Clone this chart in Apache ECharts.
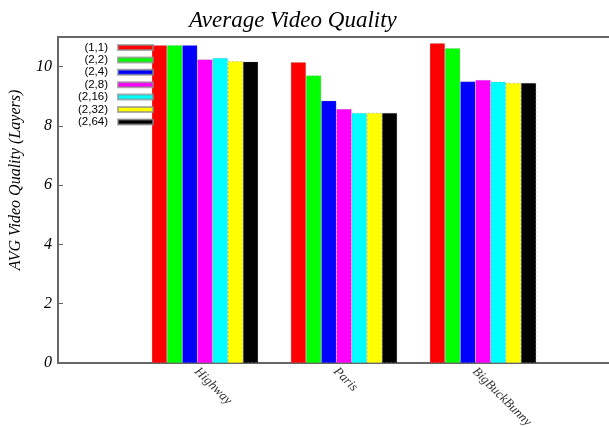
<!DOCTYPE html>
<html>
<head>
<meta charset="utf-8">
<script src="https://cdn.jsdelivr.net/npm/echarts@6/dist/echarts.min.js"></script>
<style>
  html, body { margin: 0; padding: 0; background: #fff; }
  #chart { width: 609px; height: 427px; }
</style>
</head>
<body>
<div id="chart"></div>
<script>
// videos on the x axis
var videos = ['Highway', 'Paris', 'BigBuckBunny'];

// one series per configuration
var configs = ['(1,1)', '(2,2)', '(2,4)', '(2,8)', '(2,16)', '(2,32)', '(2,64)'];
var colors = ['#ff0000', '#00ff00', '#0000ff', '#ff00ff', '#00ffff', '#ffff00', '#000000'];

var q1_1 = [10.72, 10.15, 10.79];
var q2_2 = [10.72, 9.70, 10.62];
var q2_4 = [10.72, 8.85, 9.50];
var q2_8 = [10.24, 8.57, 9.55];
var q2_16 = [10.29, 8.44, 9.49];
var q2_32 = [10.18, 8.44, 9.45];
var q2_64 = [10.17, 8.44, 9.45];

var values = [q1_1, q2_2, q2_4, q2_8, q2_16, q2_32, q2_64];

var serif = 'Liberation Serif';

var chart = echarts.init(document.getElementById('chart'));

var series = configs.map(function (name, i) {
    return {
        name: name,
        type: 'bar',
        xAxisIndex: 1,
        yAxisIndex: 2,
        data: values[i],
        barWidth: 15.2,
        barGap: 0,
        itemStyle: {
            color: colors[i],
            borderColor: 'rgba(140,140,140,0.7)',
            borderWidth: 0.6,
            borderType: [2, 2]
        }
    };
});

var option = {
    animation: false,
    backgroundColor: '#fff',
    title: {
        text: 'Average Video Quality',
        left: 184,
        top: 4,
        textStyle: {
            fontFamily: serif,
            fontStyle: 'italic',
            fontWeight: 'normal',
            fontSize: 23,
            color: '#000'
        }
    },
    legend: {
        orient: 'vertical',
        align: 'right',
        left: 78,
        top: 41.5,
        padding: 0,
        itemWidth: 35,
        itemHeight: 5,
        itemGap: 0.4,
        icon: 'rect',
        textStyle: {
            fontFamily: 'Liberation Sans',
            fontSize: 11.5,
            lineHeight: 12,
            color: '#000',
            padding: [0, 5, 0, 0]
        },
        data: configs
    },
    grid: [
        { left: 58, top: 37, width: 558, bottom: 64, outerBoundsMode: 'none', show: true, borderColor: '#666', borderWidth: 2, backgroundColor: 'transparent' },
        { left: 135.5, top: 37, width: 417, bottom: 64, outerBoundsMode: 'none' }
    ],
    xAxis: [
        { gridIndex: 0, type: 'value', min: 0, max: 1, show: false },
        {
            gridIndex: 1,
            type: 'category',
            data: videos,
            axisLine: { show: false },
            axisTick: { show: false },
            axisLabel: {
                rotate: -45,
                margin: -2,
                lineHeight: 24,
                formatter: function (v) { return '\n' + v; },
                fontFamily: serif,
                fontStyle: 'italic',
                fontSize: 13,
                color: '#333'
            }
        }
    ],
    yAxis: [
        {
            gridIndex: 0,
            type: 'value',
            min: 0,
            max: 11,
            interval: 2,
            name: 'AVG Video Quality (Layers)',
            nameLocation: 'middle',
            nameGap: 34,
            nameTextStyle: {
                fontFamily: serif,
                fontStyle: 'italic',
                fontSize: 16,
                color: '#000',
                padding: [0, 0, 0, 40]
            },
            axisLine: { show: false },
            axisTick: { show: true, inside: true, length: 5, lineStyle: { color: '#666' } },
            splitLine: { show: false },
            axisLabel: {
                showMaxLabel: false,
                margin: 6,
                fontFamily: serif,
                fontStyle: 'italic',
                fontSize: 16,
                color: '#000'
            }
        },
        {
            gridIndex: 0,
            type: 'value',
            position: 'right',
            min: 0,
            max: 11,
            interval: 2,
            axisLine: { show: false },
            axisTick: { show: true, inside: true, length: 7, lineStyle: { color: '#bbb' } },
            splitLine: { show: false },
            axisLabel: { show: false }
        },
        { gridIndex: 1, type: 'value', min: 0, max: 11, show: false }
    ],
    series: series
};

chart.setOption(option);
</script>
</body>
</html>
